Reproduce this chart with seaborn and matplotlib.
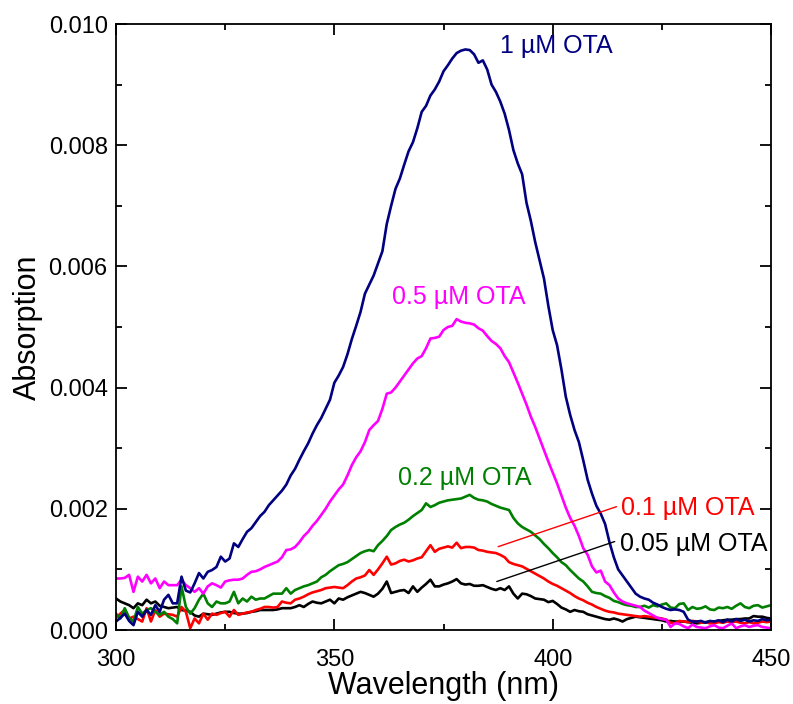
import numpy as np
import pandas as pd
import matplotlib
matplotlib.use("Agg")
import matplotlib.pyplot as plt
from matplotlib.ticker import MultipleLocator, FormatStrFormatter
import seaborn as sns

# Wavelength grid (nm), 300..450 at 1 nm
wavelength = np.arange(300, 451, 1)

# Absorbance values, in units of 1e-3
ota_1um = [
    0.14, 0.20, 0.27, 0.15, 0.08, 0.30, 0.22, 0.33, 0.25, 0.41,   # 300-309
    0.30, 0.50, 0.58, 0.44, 0.44, 0.88, 0.65, 0.62, 0.77, 0.94,   # 310-319
    0.85, 0.96, 0.99, 1.04, 1.21, 1.13, 1.18, 1.43, 1.37, 1.50,   # 320-329
    1.62, 1.68, 1.78, 1.88, 1.95, 2.06, 2.14, 2.22, 2.30, 2.40,   # 330-339
    2.55, 2.66, 2.81, 2.95, 3.08, 3.24, 3.38, 3.50, 3.65, 3.80,   # 340-349
    4.08, 4.20, 4.34, 4.55, 4.80, 5.02, 5.25, 5.55, 5.70, 5.85,   # 350-359
    6.05, 6.25, 6.70, 7.00, 7.28, 7.45, 7.68, 7.90, 8.05, 8.28,   # 360-369
    8.55, 8.65, 8.82, 8.92, 9.05, 9.22, 9.32, 9.43, 9.52, 9.56,   # 370-379
    9.58, 9.57, 9.50, 9.36, 9.40, 9.25, 9.00, 8.88, 8.72, 8.52,   # 380-389
    8.25, 7.92, 7.70, 7.52, 7.05, 6.75, 6.40, 6.10, 5.80, 5.35,   # 390-399
    4.95, 4.70, 4.30, 3.85, 3.55, 3.30, 3.10, 2.80, 2.48, 2.25,   # 400-409
    2.05, 1.92, 1.75, 1.45, 1.20, 1.00, 0.90, 0.80, 0.70, 0.60,   # 410-419
    0.55, 0.52, 0.50, 0.45, 0.42, 0.38, 0.35, 0.33, 0.34, 0.33,   # 420-429
    0.30, 0.17, 0.14, 0.14, 0.15, 0.12, 0.15, 0.14, 0.16, 0.13,   # 430-439
    0.17, 0.14, 0.18, 0.15, 0.17, 0.14, 0.16, 0.15, 0.18, 0.16,   # 440-449
    0.17,                                                         # 450
]

ota_05um = [
    0.85, 0.85, 0.86, 0.91, 0.63, 0.88, 0.80, 0.91, 0.77, 0.85,
    0.69, 0.80, 0.74, 0.74, 0.74, 0.83, 0.74, 0.69, 0.63, 0.69,
    0.60, 0.72, 0.77, 0.74, 0.70, 0.80, 0.82, 0.83, 0.83, 0.85,
    0.91, 0.96, 0.97, 1.00, 1.04, 1.07, 1.10, 1.13, 1.20, 1.32,
    1.33, 1.37, 1.45, 1.55, 1.62, 1.72, 1.80, 1.90, 2.00, 2.12,
    2.22, 2.32, 2.40, 2.55, 2.72, 2.85, 2.95, 3.10, 3.30, 3.38,
    3.45, 3.65, 3.90, 3.92, 4.00, 4.10, 4.20, 4.30, 4.40, 4.48,
    4.52, 4.65, 4.81, 4.82, 4.84, 4.95, 5.00, 5.02, 5.13, 5.09,
    5.07, 5.06, 5.04, 4.98, 4.94, 4.85, 4.77, 4.72, 4.65, 4.52,
    4.42, 4.25, 4.08, 3.90, 3.72, 3.52, 3.35, 3.16, 2.97, 2.78,
    2.60, 2.42, 2.22, 2.02, 1.85, 1.72, 1.55, 1.35, 1.24, 1.05,
    0.95, 0.98, 0.80, 0.74, 0.62, 0.52, 0.47, 0.44, 0.42, 0.40,
    0.38, 0.32, 0.28, 0.24, 0.20, 0.18, 0.17, 0.05, 0.11, 0.10,
    0.06, 0.03, 0.09, 0.05, 0.04, 0.03, 0.06, 0.08, 0.04, 0.03,
    0.07, 0.11, 0.03, 0.06, 0.08, 0.05, 0.07, 0.08, 0.05, 0.04,
    0.03,
]

ota_02um = [
    0.27, 0.19, 0.36, 0.20, 0.14, 0.38, 0.27, 0.33, 0.36, 0.30,
    0.25, 0.30, 0.22, 0.18, 0.11, 0.72, 0.38, 0.27, 0.36, 0.50,
    0.60, 0.44, 0.38, 0.47, 0.44, 0.44, 0.47, 0.63, 0.44, 0.52,
    0.47, 0.55, 0.50, 0.52, 0.52, 0.56, 0.60, 0.60, 0.60, 0.69,
    0.60, 0.66, 0.69, 0.72, 0.74, 0.77, 0.80, 0.87, 0.91, 0.97,
    1.02, 1.07, 1.09, 1.12, 1.17, 1.22, 1.27, 1.30, 1.32, 1.30,
    1.40, 1.47, 1.55, 1.65, 1.70, 1.74, 1.77, 1.82, 1.88, 1.93,
    1.98, 2.09, 2.03, 2.06, 2.10, 2.12, 2.14, 2.15, 2.16, 2.17,
    2.20, 2.23, 2.18, 2.15, 2.14, 2.12, 2.08, 2.05, 2.02, 2.00,
    1.98, 1.85, 1.76, 1.70, 1.66, 1.62, 1.56, 1.50, 1.42, 1.35,
    1.27, 1.20, 1.12, 1.07, 0.99, 0.92, 0.85, 0.80, 0.72, 0.63,
    0.61, 0.60, 0.56, 0.53, 0.48, 0.46, 0.43, 0.41, 0.40, 0.38,
    0.38, 0.40, 0.37, 0.41, 0.39, 0.42, 0.44, 0.37, 0.36, 0.43,
    0.44, 0.33, 0.38, 0.35, 0.36, 0.39, 0.34, 0.33, 0.37, 0.36,
    0.38, 0.35, 0.40, 0.44, 0.38, 0.36, 0.40, 0.41, 0.37, 0.39,
    0.41,
]

ota_01um = [
    0.20, 0.27, 0.33, 0.19, 0.22, 0.18, 0.14, 0.36, 0.14, 0.33,
    0.22, 0.27, 0.26, 0.25, 0.22, 0.38, 0.30, 0.03, 0.19, 0.11,
    0.27, 0.17, 0.27, 0.25, 0.28, 0.30, 0.22, 0.33, 0.25, 0.27,
    0.29, 0.30, 0.33, 0.35, 0.38, 0.38, 0.37, 0.38, 0.47, 0.45,
    0.44, 0.50, 0.52, 0.55, 0.59, 0.62, 0.64, 0.66, 0.69, 0.70,
    0.71, 0.70, 0.69, 0.74, 0.80, 0.85, 0.87, 0.90, 0.99, 0.91,
    1.00, 1.10, 1.21, 1.08, 1.10, 1.14, 1.16, 1.13, 1.15, 1.18,
    1.20, 1.30, 1.40, 1.29, 1.34, 1.36, 1.38, 1.36, 1.44, 1.35,
    1.37, 1.37, 1.36, 1.32, 1.31, 1.29, 1.28, 1.27, 1.24, 1.20,
    1.12, 1.09, 1.07, 1.05, 1.01, 0.97, 0.93, 0.89, 0.85, 0.80,
    0.76, 0.73, 0.69, 0.65, 0.61, 0.56, 0.52, 0.49, 0.45, 0.42,
    0.38, 0.35, 0.32, 0.30, 0.29, 0.27, 0.26, 0.25, 0.24, 0.23,
    0.22, 0.23, 0.22, 0.21, 0.20, 0.19, 0.17, 0.12, 0.11, 0.15,
    0.14, 0.13, 0.15, 0.14, 0.12, 0.13, 0.11, 0.11, 0.13, 0.12,
    0.14, 0.13, 0.14, 0.12, 0.11, 0.13, 0.11, 0.12, 0.14, 0.13,
    0.14,
]

ota_005um = [
    0.52, 0.47, 0.44, 0.41, 0.36, 0.44, 0.41, 0.50, 0.44, 0.47,
    0.40, 0.38, 0.36, 0.37, 0.38, 0.33, 0.32, 0.30, 0.24, 0.22,
    0.27, 0.26, 0.25, 0.27, 0.29, 0.30, 0.30, 0.28, 0.27, 0.27,
    0.28, 0.30, 0.31, 0.33, 0.33, 0.33, 0.33, 0.34, 0.36, 0.36,
    0.36, 0.38, 0.41, 0.38, 0.43, 0.47, 0.45, 0.44, 0.47, 0.50,
    0.44, 0.52, 0.50, 0.54, 0.57, 0.60, 0.63, 0.61, 0.58, 0.55,
    0.60, 0.68, 0.80, 0.61, 0.63, 0.65, 0.66, 0.61, 0.72, 0.63,
    0.70, 0.76, 0.83, 0.72, 0.72, 0.75, 0.77, 0.80, 0.84, 0.77,
    0.75, 0.76, 0.73, 0.73, 0.74, 0.71, 0.68, 0.66, 0.69, 0.66,
    0.72, 0.60, 0.52, 0.60, 0.59, 0.56, 0.52, 0.51, 0.50, 0.46,
    0.48, 0.43, 0.37, 0.34, 0.30, 0.33, 0.31, 0.30, 0.26, 0.24,
    0.22, 0.20, 0.18, 0.17, 0.19, 0.17, 0.14, 0.18, 0.20, 0.22,
    0.21, 0.20, 0.19, 0.18, 0.17, 0.16, 0.14, 0.15, 0.14, 0.14,
    0.14, 0.13, 0.12, 0.11, 0.12, 0.13, 0.14, 0.14, 0.15, 0.16,
    0.17, 0.17, 0.18, 0.18, 0.19, 0.19, 0.23, 0.22, 0.22, 0.20,
    0.19,
]

series_labels = ["1 µM OTA", "0.5 µM OTA", "0.2 µM OTA", "0.1 µM OTA", "0.05 µM OTA"]
series_colors = ["#000080", "#FF00FF", "#008000", "#FF0000", "#000000"]
series_values = [ota_1um, ota_05um, ota_02um, ota_01um, ota_005um]

x_ticks = [300, 350, 400, 450]
y_ticks = [0.000, 0.002, 0.004, 0.006, 0.008, 0.010]

frames = []
for lab, vals in zip(series_labels, series_values):
    frames.append(pd.DataFrame({"Wavelength": wavelength,
                                "Absorption": np.asarray(vals) * 1e-3,
                                "Sample": lab}))
df = pd.concat(frames, ignore_index=True)

sns.set_style("ticks")
plt.rcParams["font.family"] = ["Liberation Sans", "DejaVu Sans"]
plt.rcParams["text.color"] = "black"
plt.rcParams["axes.labelcolor"] = "black"
plt.rcParams["xtick.color"] = "black"
plt.rcParams["ytick.color"] = "black"

fig = plt.figure(figsize=(7.93, 7.04), dpi=100)
ax = fig.add_axes([0.1463, 0.1051, 0.8260, 0.8608])

for lab, col in zip(series_labels[::-1], series_colors[::-1]):
    sub = df[df["Sample"] == lab]
    sns.lineplot(data=sub, x="Wavelength", y="Absorption", color=col,
                 linewidth=1.9, estimator=None, ax=ax, legend=False)

ax.set_xlim(300, 450)
ax.set_ylim(0, 0.010)
ax.set_xticks(x_ticks)
ax.set_yticks(y_ticks)
ax.xaxis.set_minor_locator(MultipleLocator(25))
ax.yaxis.set_minor_locator(MultipleLocator(0.001))
ax.yaxis.set_major_formatter(FormatStrFormatter("%.3f"))
ax.tick_params(which="both", direction="in", top=True, right=True, width=1.3,
               labelsize=17, colors="black", labelcolor="black")
ax.tick_params(which="major", length=8)
ax.tick_params(which="minor", length=4)
ax.tick_params(axis="x", pad=14)
ax.tick_params(axis="y", pad=6)
for s in ax.spines.values():
    s.set_linewidth(1.3)
    s.set_color("black")

ax.set_xlabel("Wavelength (nm)", fontsize=22, labelpad=0, color="black")
ax.set_ylabel("Absorption", fontsize=22, labelpad=4, color="black")

# annotations
ax.text(387.9, 0.00964, "1 µM OTA", color="#000080", fontsize=18, va="center", ha="left")
ax.text(363.2, 0.00550, "0.5 µM OTA", color="#FF00FF", fontsize=18, va="center", ha="left")
ax.text(364.6, 0.00251, "0.2 µM OTA", color="#008000", fontsize=18, va="center", ha="left")
ax.text(415.6, 0.00201, "0.1 µM OTA", color="#FF0000", fontsize=18, va="center", ha="left")
ax.text(415.4, 0.00142, "0.05 µM OTA", color="#000000", fontsize=18, va="center", ha="left")

# leader lines
ax.plot([387.5, 414.6], [0.001375, 0.002035], color="#FF0000", linewidth=1.0)
ax.plot([387.2, 414.2], [0.00080, 0.00146], color="#000000", linewidth=1.0)

fig.savefig("out.png", dpi=100)
